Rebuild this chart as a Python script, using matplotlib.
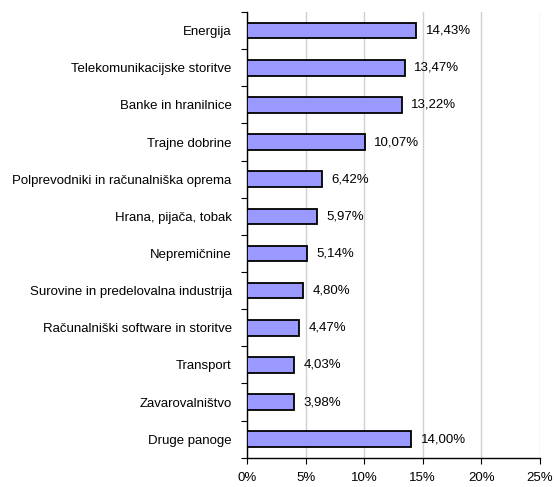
import matplotlib.pyplot as plt
import numpy as np

plt.rcParams['font.family'] = ['Liberation Sans', 'DejaVu Sans']

categories = ['Energija', 'Telekomunikacijske storitve', 'Banke in hranilnice',
              'Trajne dobrine', 'Polprevodniki in računalniška oprema',
              'Hrana, pijača, tobak', 'Nepremičnine',
              'Surovine in predelovalna industrija',
              'Računalniški software in storitve', 'Transport',
              'Zavarovalništvo', 'Druge panoge']
values = [14.43, 13.47, 13.22, 10.07, 6.42, 5.97, 5.14, 4.80, 4.47, 4.03, 3.98, 14.00]
xticks = [0, 5, 10, 15, 20, 25]

fig = plt.figure(figsize=(5.54, 4.87), dpi=100)
ax = fig.add_axes([0.4458, 0.0600, 0.529, 0.9154])

n = len(categories)
y = np.arange(n)[::-1]
ax.barh(y, values, height=0.42, color='#9999FF', edgecolor='black', linewidth=1.3, zorder=3)

for yi, v in zip(y, values):
    ax.text(v + 0.8, yi, f"{v:.2f}%".replace('.', ','), va='center', ha='left', fontsize=9.5)

ax.set_xlim(0, 25)
ax.set_ylim(-0.5, n - 0.5)
ax.set_xticks(xticks)
ax.set_xticklabels([f"{t}%" for t in xticks], fontsize=9.5)
ax.xaxis.grid(True, color='#D0D0D0', linewidth=1.0, zorder=0)

# category boundaries as ticks, names as minor ticks
ax.set_yticks(np.arange(-0.5, n, 1.0))
ax.set_yticklabels([])
ax.set_yticks(y, minor=True)
ax.set_yticklabels(categories, minor=True, fontsize=9.5)
ax.tick_params(axis='y', which='major', length=4, direction='out')
ax.tick_params(axis='y', which='minor', length=0, pad=11)
ax.tick_params(axis='x', length=4, direction='out', pad=6)

for s in ['top', 'right']:
    ax.spines[s].set_visible(False)
ax.spines['left'].set_linewidth(1.0)
ax.spines['bottom'].set_linewidth(1.0)

fig.savefig('out.png', dpi=100)
